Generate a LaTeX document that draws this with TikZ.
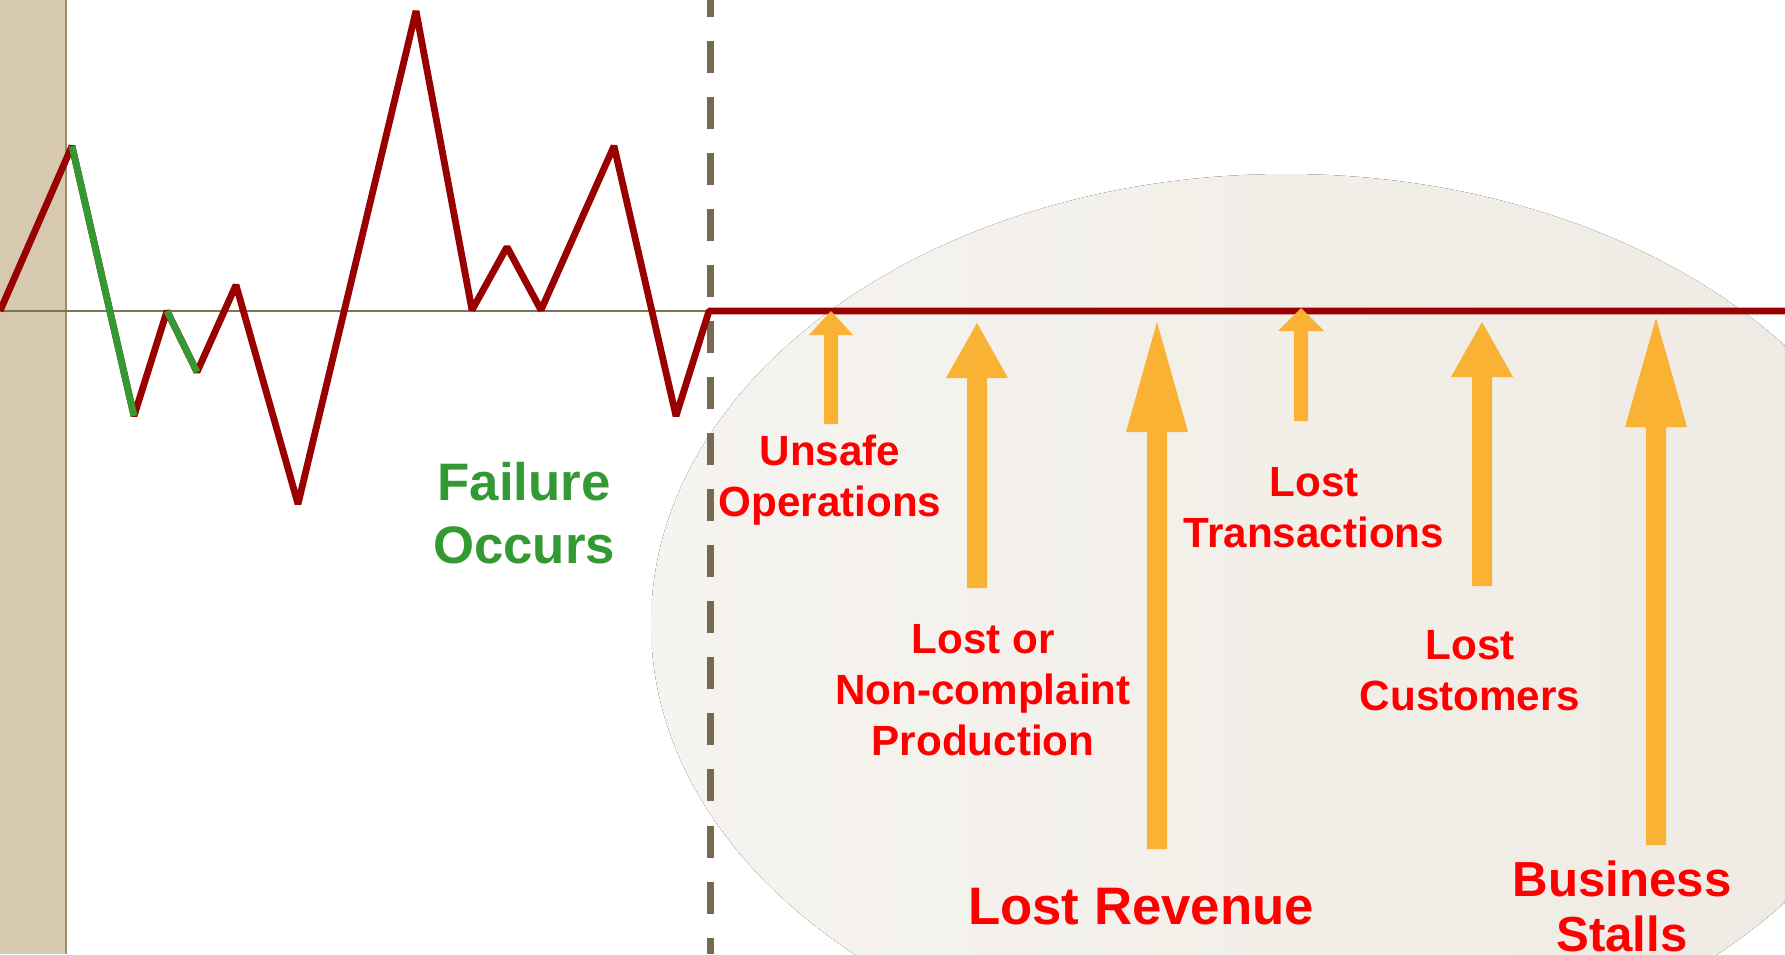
\documentclass[tikz,border=0pt]{standalone}
\usepackage{fontspec}
\setmainfont{Liberation Sans}

\definecolor{bandtan}{HTML}{D6C9B0}
\definecolor{bandedge}{HTML}{9A8C6E}
\definecolor{axisgray}{HTML}{7F7358}
\definecolor{dashbrown}{HTML}{786A50}
\definecolor{trendred}{HTML}{990000}
\definecolor{trendgreen}{HTML}{339933}
\definecolor{lossorange}{HTML}{F9B233}
\definecolor{lossred}{HTML}{FF0000}
\definecolor{zoneleft}{HTML}{F6F4F0}
\definecolor{zoneright}{HTML}{EEEAE2}

% x, tip, head base, half head, half shaft, bottom
\newcommand{\lossarrow}[6]{%
  \fill[lossorange] ({#1-#5},#6) -- ({#1-#5},#3) -- ({#1-#4},#3) -- (#1,#2)
    -- ({#1+#4},#3) -- ({#1+#5},#3) -- ({#1+#5},#6) -- cycle;}

\begin{document}
\begin{tikzpicture}[x=0.01cm,y=-0.01cm,
    trend/.style={line width=0.068cm,line join=bevel},
    losstext/.style={text=lossred,align=center,inner sep=0pt,font=\bfseries\fontsize{12}{14.5}\selectfont},
    bigloss/.style={losstext,font=\bfseries\fontsize{15}{15.6}\selectfont}]
\useasboundingbox (0,0) rectangle (1785,954);
\clip (0,0) rectangle (1785,954);
\fill[white] (0,0) rectangle (1785,954);

% background
\fill[bandtan] (0,0) rectangle (66,954);
\draw[bandedge,line width=0.02cm] (66,0) -- (66,954);
\fill[left color=zoneleft,right color=zoneright] (1286,624) ellipse [x radius=635,y radius=450];
\draw[axisgray,line width=0.025cm] (0,311) -- (710,311);
\draw[dashbrown,line width=0.07cm,dash pattern=on 0.32cm off 0.24cm,dash phase=0.15cm] (710,0) -- (710,954);

% signal
\draw[trend,trendred] (0,311) -- (72,146) -- (134,416) -- (167,311) -- (197,372) -- (236,285)
  -- (298,504) -- (416,11) -- (472,310) -- (507,247) -- (541,310) -- (614,146)
  -- (676,416) -- (709,311) -- (1785,311);
\draw[trend,trendgreen] (72,146) -- (134,416);
\draw[trend,trendgreen] (167,311) -- (197,372);

% losses
\lossarrow{831}{311}{335}{22}{7}{424}
\lossarrow{977}{323}{378}{31}{10}{588}
\lossarrow{1157}{322}{432}{31}{10}{849}
\lossarrow{1301}{308}{331}{23}{7}{421}
\lossarrow{1482}{322}{377}{31}{10}{586}
\lossarrow{1656}{318}{427}{31}{10}{845}

\node[bigloss,text=trendgreen,font=\bfseries\fontsize{15}{17.9}\selectfont] (failure) at (524,513) {Failure\\Occurs};
\node[losstext] (unsafe) at (830,480) {Unsafe\\Operations};
\node[losstext] (production) at (983,690) {Lost or\\Non-complaint\\Production};
\node[losstext] (transactions) at (1314,508) {Lost\\Transactions};
\node[losstext] (customers) at (1470,671) {Lost\\Customers};
\node[bigloss] (revenue) at (1141,907) {Lost Revenue};
\node[bigloss,font=\bfseries\fontsize{14}{15.6}\selectfont] (stalls) at (1622,906) {Business\\Stalls};
\end{tikzpicture}
\end{document}
